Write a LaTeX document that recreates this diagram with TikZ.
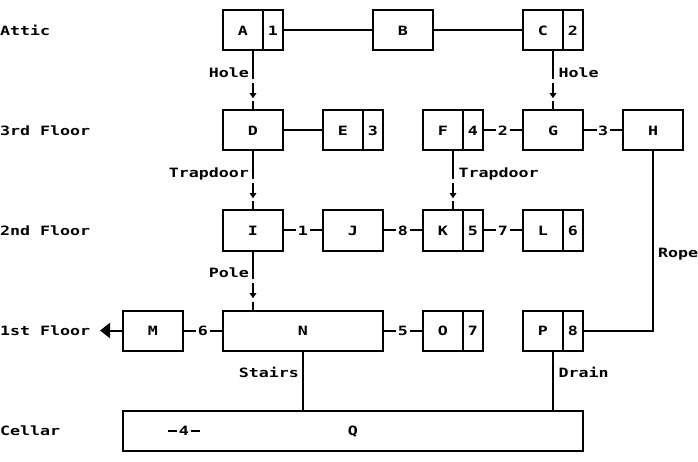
\documentclass[tikz,border=0pt]{standalone}
\usepackage{fontspec}
\newfontfamily\pixfont[FakeStretch=1.3]{DejaVu Sans Mono}
\usetikzlibrary{arrows.meta}
\begin{document}
\begin{tikzpicture}[x=1pt,y=-1pt,line width=2pt,
  every node/.style={font=\pixfont\bfseries\fontsize{12.8}{14}\selectfont,
    inner sep=0pt,outer sep=0pt,text height=9.3pt,text depth=0pt},
  box/.style={draw,minimum width=60pt,minimum height=40pt},
  numbox/.style={draw,minimum width=20pt,minimum height=40pt},
  widebox/.style={draw,minimum height=40pt},
  elab/.style={fill=white,inner xsep=1.5pt},
  lleft/.style={anchor=east},
  lright/.style={anchor=west},
  downtip/.style={-{Triangle[length=5pt,width=6.5pt]}},
  bigtip/.style={-{Triangle[length=10pt,width=15pt]}}]
\path[fill=white,use as bounding box] (0,0) rectangle (698,462);

% floor labels
\node[anchor=west] (f0) at (0,30.5) {Attic};
\node[anchor=west] (f1) at (0,130.5) {3rd Floor};
\node[anchor=west] (f2) at (0,230.5) {2nd Floor};
\node[anchor=west] (f3) at (0,330.5) {1st Floor};
\node[anchor=west] (f4) at (0,430.5) {Cellar};

% attic
\node[box] (A) at (253,30.5) {};
\node (At) at (243,30.5) {A};
\node[numbox] (A1) at (273,30.5) {1};
\node[box] (B) at (403,30.5) {B};
\node[box] (C) at (553,30.5) {};
\node (Ct) at (543,30.5) {C};
\node[numbox] (C1) at (573,30.5) {2};

% 3rd floor
\node[box] (D) at (253,130.5) {D};
\node[box] (E) at (353,130.5) {};
\node (Et) at (343,130.5) {E};
\node[numbox] (E1) at (373,130.5) {3};
\node[box] (F) at (453,130.5) {};
\node (Ft) at (443,130.5) {F};
\node[numbox] (F1) at (473,130.5) {4};
\node[box] (G) at (553,130.5) {G};
\node[box] (H) at (653,130.5) {H};

% 2nd floor
\node[box] (I) at (253,230.5) {I};
\node[box] (J) at (353,230.5) {J};
\node[box] (K) at (453,230.5) {};
\node (Kt) at (443,230.5) {K};
\node[numbox] (K1) at (473,230.5) {5};
\node[box] (L) at (553,230.5) {};
\node (Lt) at (543,230.5) {L};
\node[numbox] (L1) at (573,230.5) {6};

% 1st floor
\node[box] (M) at (153,330.5) {M};
\node[widebox,minimum width=160pt] (N) at (303,330.5) {N};
\node[box] (O) at (453,330.5) {};
\node (Ot) at (443,330.5) {O};
\node[numbox] (O1) at (473,330.5) {7};
\node[box] (P) at (553,330.5) {};
\node (Pt) at (543,330.5) {P};
\node[numbox] (P1) at (573,330.5) {8};

% cellar
\node[widebox,minimum width=460pt] (Q) at (353,430.5) {Q};
\node (q4) [inner xsep=1.5pt] at (184,430.5) {4};
\coordinate (q4l) at (168,430.5);
\coordinate (q4r) at (200,430.5);
\draw (q4l) -- (q4.west);
\draw (q4.east) -- (q4r);

% horizontal connectors
\draw (A1.east) -- (B.west);
\draw (B.east) -- (C.west);
\draw (D.east) -- (E.west);
\draw (F1.east) -- node[elab] (e2) {2} (G.west);
\draw (G.east) -- node[elab] (e3) {3} (H.west);
\draw (I.east) -- node[elab] (e1) {1} (J.west);
\draw (J.east) -- node[elab] (e8) {8} (K.west);
\draw (K1.east) -- node[elab] (e7) {7} (L.west);
\draw (M.east) -- node[elab] (e6) {6} (N.west);
\draw (N.east) -- node[elab] (e5) {5} (O.west);

% left arrow from M
\coordinate (mtip) at (100,330.5);
\draw[bigtip] (M.west) -- (mtip);

% broken down-arrows
\coordinate (Ntop) at (I.south |- N.north);
\foreach \s/\t/\n in {A.south/D.north/ad, C.south/G.north/cg, D.south/I.north/di, F.south/K.north/fk, I.south/Ntop/in}{
  \path (\s) -- (\t) coordinate[pos=0.48] (\n1) coordinate[pos=0.54] (\n2)
        coordinate[pos=0.795] (\n3) coordinate[pos=0.85] (\n4);
  \draw (\s) -- (\n1);
  \draw[downtip] (\n2) -- (\n3);
  \draw (\n4) -- (\t);
}
\node[lleft] (lad) at (249,72.5) {Hole};
\node[lright] (lcg) at (558.5,72.5) {Hole};
\node[lleft] (ldi) at (249,172.5) {Trapdoor};
\node[lright] (lfk) at (458.5,172.5) {Trapdoor};
\node[lleft] (lin) at (249,272.5) {Pole};

% plain vertical connectors
\coordinate (Qn) at (N.south |- Q.north);
\draw (N.south) -- (Qn);
\node[lleft] (lst) at (299,372.5) {Stairs};
\coordinate (Qp) at (P.south |- Q.north);
\draw (P.south) -- (Qp);
\node[lright] (ldr) at (558.5,372.5) {Drain};
\draw (H.south) |- (P1.east);
\node[lright] (lro) at (658,252.5) {Rope};
\end{tikzpicture}
\end{document}
